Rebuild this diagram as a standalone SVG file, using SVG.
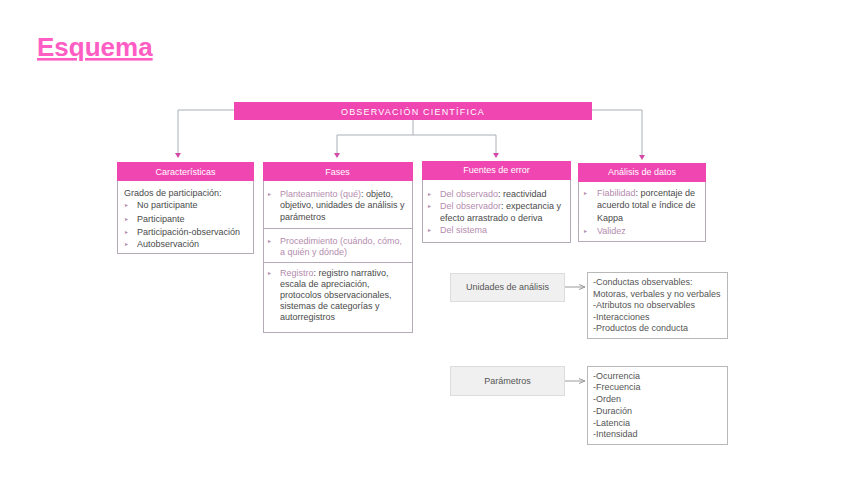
<svg xmlns="http://www.w3.org/2000/svg" width="848" height="477" viewBox="0 0 848 477">
<style>
text{font-family:"Liberation Sans",Arial,sans-serif}
.hd{fill:#ef46b2}
.bx{fill:#fff;stroke:#b4aab8;stroke-width:1}
.ht{fill:#fff;font-size:9px;text-anchor:middle}
.t{fill:#4a4a4a;font-size:9px}
.m{fill:#b48cae}
.bl{fill:#b48cae;font-size:6px}
.gb{fill:#f0f0f0;stroke:#dcdcdc;stroke-width:1}
.wb{fill:#fff;stroke:#b8b8b8;stroke-width:1}
.gt{fill:#555;font-size:9px}
.c{fill:none;stroke:#a9aeb6;stroke-width:1}
.c2{fill:none;stroke:#9a9a9a;stroke-width:1}
</style>
<defs>
<marker id="ap" viewBox="0 0 6 6" refX="3" refY="5" markerWidth="6" markerHeight="6" orient="auto-start-reverse" markerUnits="userSpaceOnUse">
<path d="M0,1 L6,1 L3,5 Z" fill="#d44aa8" transform="rotate(0)"/>
</marker>
<marker id="ag" viewBox="0 0 6 6" refX="6" refY="3" markerWidth="6" markerHeight="6" orient="auto" markerUnits="userSpaceOnUse">
<path d="M0,0.5 L6,3 L0,5.5" fill="none" stroke="#9a9a9a" stroke-width="1"/>
</marker>
</defs>
<rect width="848" height="477" fill="#fff"/>

<g id="title">
<text x="37" y="56" font-size="26" font-weight="bold" fill="#ff5cc4" text-decoration="underline">Esquema</text>
</g>

<g id="connectors">
<path class="c" d="M234,110 H178 V155"/>
<path class="c" d="M413,120 V135 M337,135 H496 M337,135 V155 M496,135 V155"/>
<path class="c" d="M592,110 H642 V157"/>
<path d="M175,153 L181,153 L178,158 Z" fill="#d44aa8"/>
<path d="M334,153 L340,153 L337,158 Z" fill="#d44aa8"/>
<path d="M493,153 L499,153 L496,158 Z" fill="#d44aa8"/>
<path d="M639,155 L645,155 L642,160 Z" fill="#d44aa8"/>
<path class="c2" d="M565,287 H585" marker-end="url(#ag)"/>
<path class="c2" d="M565,381 H585" marker-end="url(#ag)"/>
</g>

<g id="root">
<rect x="234" y="102" width="358" height="18" class="hd"/>
<text x="413" y="114.5" class="ht" letter-spacing="1.2">OBSERVACIÓN CIENTÍFICA</text>
</g>

<g id="caracteristicas">
<rect x="117.5" y="162.5" width="136" height="91" class="bx"/>
<rect x="117" y="162" width="137" height="19" class="hd"/>
<text x="185.5" y="174.5" class="ht">Características</text>
<text x="124" y="196" class="t">Grados de participación:</text>
<text x="125" y="207" class="bl">▸</text><text x="137" y="208" class="t">No participante</text>
<text x="125" y="221" class="bl">▸</text><text x="137" y="222" class="t">Participante</text>
<text x="125" y="234" class="bl">▸</text><text x="137" y="235" class="t">Participación-observación</text>
<text x="125" y="246" class="bl">▸</text><text x="137" y="247" class="t">Autobservación</text>
</g>

<g id="fases">
<rect x="263.5" y="162.5" width="149" height="170" class="bx"/>
<rect x="263" y="162" width="150" height="19" class="hd"/>
<text x="337.5" y="174.5" class="ht">Fases</text>
<line x1="264" y1="228.5" x2="412" y2="228.5" stroke="#b4aab8"/>
<line x1="264" y1="262.5" x2="412" y2="262.5" stroke="#b4aab8"/>
<text x="268" y="196" class="bl">▸</text>
<text x="280" y="197" class="t"><tspan class="m">Planteamiento (qué)</tspan>: objeto,</text>
<text x="280" y="208" class="t">objetivo, unidades de análisis y</text>
<text x="280" y="220" class="t">parámetros</text>
<text x="268" y="243" class="bl">▸</text>
<text x="280" y="244" class="t m">Procedimiento (cuándo, cómo,</text>
<text x="280" y="255" class="t m">a quién y dónde)</text>
<text x="268" y="275" class="bl">▸</text>
<text x="280" y="276" class="t"><tspan class="m">Registro</tspan>: registro narrativo,</text>
<text x="280" y="287" class="t">escala de apreciación,</text>
<text x="280" y="298" class="t">protocolos observacionales,</text>
<text x="280" y="309" class="t">sistemas de categorías y</text>
<text x="280" y="320" class="t">autorregistros</text>
</g>

<g id="fuentes">
<rect x="422.5" y="161.5" width="148" height="81" class="bx"/>
<rect x="422" y="161" width="149" height="19" class="hd"/>
<text x="496.5" y="173" class="ht">Fuentes de error</text>
<text x="428" y="196" class="bl">▸</text>
<text x="440" y="197" class="t"><tspan class="m">Del observado</tspan>: reactividad</text>
<text x="428" y="208" class="bl">▸</text>
<text x="440" y="209" class="t"><tspan class="m">Del observador</tspan>: expectancia y</text>
<text x="440" y="221" class="t">efecto arrastrado o deriva</text>
<text x="428" y="232" class="bl">▸</text>
<text x="440" y="233" class="t m">Del sistema</text>
</g>

<g id="analisis">
<rect x="578.5" y="163.5" width="127" height="78" class="bx"/>
<rect x="578" y="163" width="128" height="19" class="hd"/>
<text x="642" y="175" class="ht">Análisis de datos</text>
<text x="584" y="195" class="bl">▸</text>
<text x="597" y="196" class="t"><tspan class="m">Fiabilidad</tspan>: porcentaje de</text>
<text x="597" y="208" class="t">acuerdo total e índice de</text>
<text x="597" y="221" class="t">Kappa</text>
<text x="584" y="233" class="bl">▸</text>
<text x="597" y="234" class="t m">Validez</text>
</g>

<g id="unidades">
<rect x="450.5" y="273.5" width="114" height="28" class="gb"/>
<text x="507.5" y="290" class="gt" text-anchor="middle">Unidades de análisis</text>
</g>
<g id="unidades-lista">
<rect x="587.5" y="272.5" width="140" height="66" class="wb"/>
<text x="593" y="285" class="gt">-Conductas observables:</text>
<text x="593" y="297" class="gt">Motoras, verbales y no verbales</text>
<text x="593" y="308" class="gt">-Atributos no observables</text>
<text x="593" y="320" class="gt">-Interacciones</text>
<text x="593" y="331" class="gt">-Productos de conducta</text>
</g>

<g id="parametros">
<rect x="450.5" y="366.5" width="114" height="29" class="gb"/>
<text x="507.5" y="384" class="gt" text-anchor="middle">Parámetros</text>
</g>
<g id="parametros-lista">
<rect x="587.5" y="366.5" width="140" height="78" class="wb"/>
<text x="593" y="379" class="gt">-Ocurrencia</text>
<text x="593" y="390" class="gt">-Frecuencia</text>
<text x="593" y="402" class="gt">-Orden</text>
<text x="593" y="414" class="gt">-Duración</text>
<text x="593" y="426" class="gt">-Latencia</text>
<text x="593" y="437" class="gt">-Intensidad</text>
</g>
</svg>
